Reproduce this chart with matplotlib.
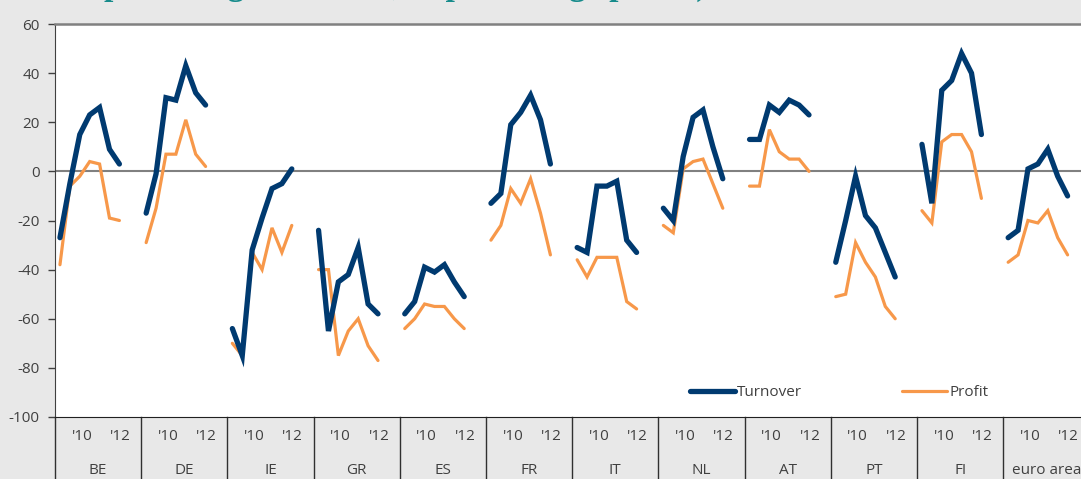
import matplotlib.pyplot as plt
import numpy as np

# Turnover and profit of SMEs by country (net percentages), 7 survey rounds per country
countries = ['BE', 'DE', 'IE', 'GR', 'ES', 'FR', 'IT', 'NL', 'AT', 'PT', 'FI', 'euro area']
year_labels = ["'10", "'12"]

turnover = [
    [-27, -5, 15, 23, 26, 9, 3],
    [-17, -1, 30, 29, 43, 32, 27],
    [-64, -75, -32, -19, -7, -5, 1],
    [-24, -65, -45, -42, -31, -54, -58],
    [-58, -53, -39, -41, -38, -45, -51],
    [-13, -9, 19, 24, 31, 21, 3],
    [-31, -33, -6, -6, -4, -28, -33],
    [-15, -20, 6, 22, 25, 10, -3],
    [13, 13, 27, 24, 29, 27, 23],
    [-37, -20, -2, -18, -23, -33, -43],
    [11, -13, 33, 37, 48, 40, 15],
    [-27, -24, 1, 3, 9, -2, -10],
]
profit = [
    [-38, -6, -2, 4, 3, -19, -20],
    [-29, -15, 7, 7, 21, 7, 2],
    [-70, -75, -33, -40, -23, -33, -22],
    [-40, -40, -75, -65, -60, -71, -77],
    [-64, -60, -54, -55, -55, -60, -64],
    [-28, -22, -7, -13, -3, -17, -34],
    [-36, -43, -35, -35, -35, -53, -56],
    [-22, -25, 1, 4, 5, -5, -15],
    [-6, -6, 17, 8, 5, 5, 0],
    [-51, -50, -29, -37, -43, -55, -60],
    [-16, -21, 12, 15, 15, 8, -11],
    [-37, -34, -20, -21, -16, -27, -34],
]

navy = '#003a70'
orange = '#f7984a'
txt = '#404040'
W = 8.7  # width of one country block in category slots
fs = 11

plt.rcParams['font.family'] = ['Open Sans', 'DejaVu Sans']
plt.rcParams['axes.unicode_minus'] = False

fig = plt.figure(figsize=(10.81, 4.79), dpi=100, facecolor='#e8e8e8')
ax = fig.add_axes([55 / 1081, 1 - 417 / 479, 1026 / 1081, 393 / 479])
ax.set_facecolor('white')

for g, name in enumerate(countries):
    xs = g * W + 0.5 + np.arange(len(turnover[g]))
    ax.plot(xs, turnover[g], color=navy, lw=3.8, solid_capstyle='round',
            solid_joinstyle='miter', label='Turnover' if g == 0 else None, zorder=3)
    ax.plot(xs, profit[g], color=orange, lw=2.3, solid_capstyle='round',
            solid_joinstyle='miter', label='Profit' if g == 0 else None, zorder=2)

    # category labels under the axis
    tr = ax.get_xaxis_transform()
    ax.text(g * W + 2.7, -0.05, year_labels[0], transform=tr, ha='center', va='center',
            fontsize=fs, color=txt)
    ax.text(g * W + 6.6, -0.05, year_labels[1], transform=tr, ha='center', va='center',
            fontsize=fs, color=txt)
    ax.text(g * W + W / 2, -0.135, name, transform=tr, ha='center', va='center',
            fontsize=fs, color=txt)

tr = ax.get_xaxis_transform()
for g in range(len(countries) + 1):
    ax.plot([g * W, g * W], [0, -0.17], transform=tr, color='#303030', lw=1, clip_on=False)

ax.axhline(0, color='#808080', lw=1.5, zorder=1)

ax.set_xlim(0, 1026 / 86.2 * W)
ax.set_ylim(-100, 60)
ax.set_yticks(np.arange(-100, 61, 20))
ax.set_xticks([])
ax.tick_params(axis='y', direction='out', length=5, width=1, color='#404040',
               labelsize=fs, labelcolor=txt, pad=6)

ax.spines['right'].set_visible(False)
ax.spines['top'].set_color('#808080')
ax.spines['top'].set_linewidth(1.8)
ax.spines['left'].set_color('#404040')
ax.spines['bottom'].set_color('#202020')

ax.legend(loc='center left', bbox_to_anchor=((690 - 55) / 1026, 24 / 393), ncol=2,
          frameon=False, fontsize=fs, handlelength=2.95, handletextpad=0.15,
          columnspacing=6.5, borderpad=0, borderaxespad=0, labelcolor=txt)

# title line cut off at the top of the picture
fig.text(104 / 1081, 1 + 5 / 479, 'percentages of firms, in percentage points)',
         ha='left', va='baseline', fontsize=24, fontweight='bold',
         family='Liberation Serif', color='#168b8b')

fig.savefig('out.png', dpi=100, facecolor=fig.get_facecolor())
